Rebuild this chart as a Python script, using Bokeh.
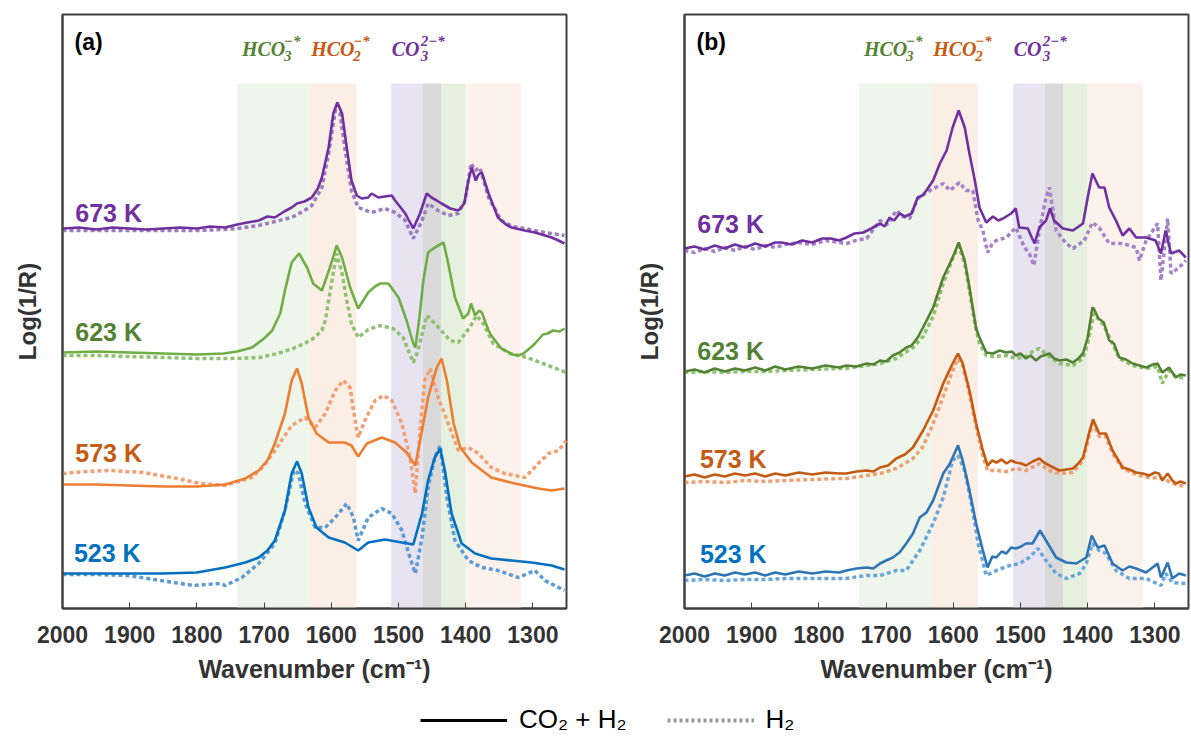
from bokeh.plotting import figure
from bokeh.layouts import row, column
from bokeh.models import Range1d, Label, Legend, LegendItem
from bokeh.embed import file_html
from bokeh.resources import INLINE

# ---------------- data (wavenumber, Log(1/R) in arbitrary offset units) ----------------
TEMPS = ["673 K", "623 K", "573 K", "523 K"]
X_TICKS = [2000, 1900, 1800, 1700, 1600, 1500, 1400, 1300]

BAND_LEFT = [1740, 1632, 1511, 1464, 1436, 1400]
BAND_RIGHT = [1632, 1563, 1464, 1436, 1400, 1318]

# panel (a)
a673_co2 = [(2000,380),(1975,381),(1950,379),(1925,381),(1900,380),(1875,379),(1850,380),(1825,381),(1800,380),(1780,382),(1758,381),(1740,384),(1725,386),(1708,388),(1695,392),(1684,391),(1670,397),(1659,401),(1651,405),(1640,407),(1629,411),(1620,420),(1614,431),(1604,461),(1597,495),(1591,506),(1584,495),(1577,461),(1570,428),(1562,413),(1555,410),(1545,411),(1540,415),(1530,411),(1520,412),(1510,413),(1505,408),(1498,402),(1490,395),(1478,380),(1468,395),(1458,415),(1451,411),(1443,408),(1436,405),(1423,400),(1411,398),(1402,405),(1396,428),(1391,441),(1385,428),(1381,434),(1376,436),(1366,415),(1352,391),(1340,384),(1332,381),(1312,378),(1297,376),(1282,373),(1272,371),(1262,368),(1253,365)]
a673_h2 = [(2000,378),(1950,378),(1900,378),(1850,378),(1800,378),(1760,379),(1740,380),(1708,383),(1684,387),(1659,391),(1640,398),(1629,403),(1614,421),(1604,455),(1594,498),(1587,495),(1580,461),(1570,418),(1560,401),(1540,396),(1520,400),(1505,396),(1490,388),(1478,370),(1465,388),(1456,405),(1441,398),(1426,393),(1411,395),(1401,408),(1392,445),(1386,438),(1379,441),(1366,411),(1347,388),(1330,382),(1312,380),(1282,376),(1253,373)]
a623_co2 = [(2000,256),(1950,257),(1900,256),(1850,255),(1800,254),(1760,255),(1740,257),(1718,261),(1700,270),(1688,278),(1676,295),(1669,318),(1659,346),(1648,355),(1636,341),(1627,325),(1614,318),(1602,341),(1592,363),(1584,351),(1572,321),(1560,300),(1545,316),(1535,322),(1527,325),(1515,325),(1500,311),(1488,288),(1478,265),(1475,261),(1469,290),(1463,328),(1456,356),(1446,361),(1433,366),(1426,345),(1416,311),(1404,290),(1396,295),(1392,305),(1386,293),(1380,298),(1376,296),(1366,278),(1362,273),(1347,260),(1330,254),(1322,253),(1314,255),(1305,260),(1297,265),(1285,274),(1278,275),(1270,278),(1260,277),(1253,280)]
a623_h2 = [(2000,253),(1950,253),(1900,252),(1850,251),(1800,250),(1750,250),(1706,251),(1680,255),(1657,260),(1640,265),(1627,270),(1614,278),(1609,288),(1599,328),(1592,355),(1584,335),(1577,308),(1570,285),(1560,271),(1545,279),(1527,283),(1508,280),(1493,271),(1478,246),(1471,258),(1458,293),(1443,283),(1423,268),(1411,266),(1394,281),(1384,293),(1374,285),(1359,265),(1334,255),(1309,251),(1285,245),(1250,236)]
a573_co2 = [(2000,124),(1950,124),(1900,123),(1850,122),(1800,122),(1758,124),(1728,130),(1708,138),(1695,148),(1684,165),(1669,195),(1659,228),(1651,240),(1644,225),(1634,191),(1622,175),(1604,166),(1590,166),(1580,166),(1570,163),(1560,152),(1547,165),(1525,171),(1505,166),(1488,156),(1475,143),(1465,178),(1456,211),(1443,241),(1436,250),(1428,228),(1418,185),(1408,161),(1391,146),(1362,131),(1327,125),(1292,120),(1272,118),(1253,120)]
a573_h2 = [(2000,135),(1965,137),(1929,138),(1880,136),(1829,130),(1795,125),(1758,123),(1718,131),(1700,143),(1684,158),(1659,183),(1639,191),(1624,181),(1609,195),(1594,218),(1582,228),(1572,221),(1567,198),(1560,171),(1550,188),(1535,208),(1522,213),(1510,208),(1495,185),(1483,151),(1475,115),(1468,178),(1461,228),(1453,240),(1441,211),(1426,185),(1411,158),(1396,161),(1381,155),(1362,141),(1342,135),(1312,131),(1292,145),(1277,155),(1262,158),(1250,168)]
a523_co2 = [(2000,35),(1950,35),(1900,35),(1850,35),(1800,36),(1775,39),(1758,41),(1728,46),(1708,51),(1695,58),(1684,68),(1669,98),(1659,135),(1651,147),(1644,135),(1634,101),(1622,81),(1604,71),(1580,66),(1560,58),(1545,66),(1520,69),(1495,66),(1478,64),(1465,95),(1456,128),(1446,151),(1438,160),(1431,138),(1421,95),(1406,65),(1386,55),(1362,50),(1332,48),(1302,46),(1272,43),(1253,39)]
a523_h2 = [(2000,34),(1950,34),(1903,33),(1854,28),(1805,23),(1765,25),(1758,23),(1733,31),(1708,45),(1684,65),(1669,98),(1656,138),(1649,135),(1639,105),(1624,81),(1609,81),(1594,91),(1577,105),(1567,91),(1560,68),(1545,91),(1525,100),(1510,95),(1495,78),(1483,51),(1475,35),(1465,71),(1456,121),(1446,151),(1438,163),(1428,111),(1416,68),(1396,48),(1376,41),(1352,38),(1322,31),(1297,38),(1282,28),(1253,18)]

# panel (b)
b673_co2 = [(2000,360),(1985,362),(1970,359),(1955,363),(1940,360),(1925,364),(1910,361),(1895,365),(1880,362),(1865,366),(1856,366),(1840,364),(1825,368),(1810,366),(1795,370),(1782,370),(1770,368),(1759,371),(1747,375),(1734,376),(1722,380),(1709,385),(1702,382),(1695,391),(1688,388),(1680,395),(1672,392),(1662,395),(1653,411),(1646,413),(1640,418),(1630,428),(1620,445),(1610,458),(1601,481),(1592,498),(1583,481),(1576,455),(1568,428),(1561,401),(1551,386),(1541,392),(1533,388),(1526,390),(1514,395),(1507,400),(1502,381),(1489,380),(1484,372),(1479,365),(1472,381),(1462,388),(1456,400),(1450,388),(1437,380),(1422,378),(1407,385),(1400,411),(1393,435),(1388,428),(1383,421),(1375,421),(1368,401),(1358,388),(1348,373),(1338,380),(1328,371),(1313,371),(1299,368),(1291,355),(1284,378),(1276,355),(1264,358),(1254,351)]
b673_h2 = [(2000,358),(1985,356),(1970,360),(1955,357),(1940,361),(1925,358),(1910,362),(1895,359),(1880,363),(1865,361),(1850,364),(1830,366),(1810,364),(1790,368),(1770,366),(1759,365),(1745,368),(1729,370),(1718,380),(1709,388),(1697,384),(1685,398),(1675,392),(1665,390),(1653,410),(1635,418),(1615,425),(1605,418),(1591,426),(1581,418),(1571,418),(1563,388),(1556,378),(1549,356),(1541,366),(1536,368),(1521,371),(1507,381),(1494,361),(1487,355),(1480,343),(1472,378),(1462,411),(1457,421),(1447,378),(1432,365),(1422,360),(1405,368),(1393,386),(1383,381),(1368,365),(1348,365),(1328,361),(1323,348),(1313,368),(1296,385),(1291,328),(1281,390),(1276,335),(1264,341),(1254,348)]
b623_co2 = [(2000,237),(1985,239),(1970,236),(1955,240),(1940,237),(1925,240),(1910,238),(1895,241),(1880,238),(1865,242),(1850,239),(1830,242),(1810,240),(1790,243),(1770,241),(1759,243),(1744,242),(1729,245),(1719,244),(1709,248),(1700,247),(1690,253),(1680,256),(1670,261),(1662,263),(1653,271),(1645,281),(1630,301),(1615,331),(1601,351),(1592,366),(1583,348),(1576,321),(1566,280),(1561,271),(1551,256),(1541,255),(1531,258),(1521,256),(1513,257),(1507,253),(1500,255),(1492,250),(1485,253),(1477,248),(1470,252),(1457,255),(1450,250),(1442,248),(1432,249),(1422,246),(1414,250),(1407,255),(1400,271),(1393,301),(1391,300),(1384,290),(1376,286),(1368,268),(1361,265),(1353,251),(1343,249),(1333,245),(1323,243),(1313,241),(1303,244),(1296,245),(1289,236),(1279,241),(1269,231),(1262,234),(1254,233)]
b623_h2 = [(2000,236),(1970,237),(1940,236),(1910,237),(1880,237),(1850,238),(1810,239),(1770,240),(1759,240),(1729,243),(1709,245),(1685,250),(1660,261),(1645,272),(1630,292),(1615,325),(1601,350),(1592,362),(1583,345),(1576,318),(1566,278),(1561,265),(1551,253),(1541,252),(1521,253),(1507,250),(1492,252),(1480,258),(1472,260),(1457,252),(1442,245),(1422,243),(1407,250),(1400,265),(1391,295),(1376,283),(1361,262),(1353,250),(1333,243),(1313,240),(1296,242),(1289,225),(1279,238),(1269,232),(1254,230)]
b573_co2 = [(2000,132),(1985,134),(1970,131),(1955,134),(1940,132),(1925,135),(1910,133),(1895,135),(1880,132),(1865,135),(1850,133),(1830,136),(1810,134),(1790,136),(1770,135),(1759,135),(1744,137),(1729,138),(1719,137),(1709,141),(1697,143),(1685,150),(1672,154),(1660,161),(1645,178),(1630,198),(1615,225),(1601,245),(1593,255),(1586,245),(1576,218),(1566,185),(1556,158),(1549,143),(1542,148),(1536,146),(1528,149),(1521,145),(1514,148),(1507,146),(1499,145),(1492,143),(1482,147),(1472,150),(1465,146),(1457,143),(1442,138),(1432,139),(1422,140),(1414,145),(1407,151),(1397,178),(1392,189),(1383,175),(1373,175),(1363,158),(1348,141),(1338,139),(1328,136),(1318,135),(1309,133),(1300,136),(1294,135),(1289,128),(1281,135),(1274,128),(1269,125),(1262,127),(1254,125)]
b573_h2 = [(2000,126),(1970,127),(1940,126),(1910,128),(1880,127),(1850,128),(1810,129),(1770,130),(1759,130),(1729,133),(1709,135),(1685,140),(1660,150),(1645,162),(1630,185),(1615,212),(1601,238),(1593,250),(1586,243),(1576,215),(1566,182),(1556,152),(1549,138),(1536,138),(1521,137),(1507,140),(1492,138),(1472,145),(1457,138),(1442,135),(1422,136),(1407,148),(1397,175),(1392,185),(1383,172),(1373,172),(1363,155),(1348,140),(1328,134),(1309,131),(1289,130),(1269,124),(1254,122)]
b523_co2 = [(2000,33),(1985,35),(1970,32),(1955,35),(1940,33),(1925,36),(1910,34),(1895,36),(1880,33),(1865,36),(1850,34),(1830,37),(1810,35),(1790,37),(1770,36),(1759,38),(1744,40),(1729,41),(1719,40),(1709,45),(1700,48),(1690,51),(1680,56),(1670,65),(1660,75),(1650,91),(1640,96),(1630,108),(1615,135),(1605,145),(1593,163),(1586,148),(1576,118),(1566,85),(1556,58),(1549,41),(1542,52),(1536,51),(1528,57),(1521,55),(1514,61),(1507,60),(1499,62),(1492,65),(1482,65),(1471,78),(1462,68),(1447,51),(1432,46),(1417,45),(1402,51),(1394,73),(1385,61),(1375,63),(1363,45),(1348,38),(1338,42),(1328,40),(1313,36),(1296,45),(1291,31),(1281,46),(1274,30),(1264,35),(1254,33)]
b523_h2 = [(2000,28),(1970,29),(1940,28),(1910,29),(1880,29),(1850,30),(1810,30),(1770,30),(1759,30),(1729,33),(1709,33),(1685,38),(1670,38),(1650,58),(1630,85),(1615,111),(1601,148),(1593,153),(1583,138),(1573,105),(1563,65),(1551,33),(1536,38),(1516,43),(1501,45),(1487,51),(1474,60),(1462,48),(1447,35),(1432,30),(1412,35),(1402,45),(1393,65),(1383,58),(1373,55),(1358,38),(1338,30),(1313,30),(1291,23),(1284,35),(1274,26),(1254,25)]

# ---------------- styles ----------------
BAND_COLORS = ["#EEF5EA", "#FBEEE5", "#E8E3F1", "#D9D9D9", "#E6F0DF", "#FDF2EB"]
TEMP_COLORS = ["#7030A0", "#548235", "#C55A11", "#0070C0"]
SOLID_A = ["#7030A0", "#70AD47", "#ED7D31", "#0070C0"]
DOT_A = ["#9E7CC1", "#8FC172", "#F2A073", "#5B9BD5"]
SOLID_B = ["#7030A0", "#548235", "#C55A11", "#2E75B6"]
DOT_B = ["#A582C8", "#8CC36C", "#F0A070", "#6AA6DC"]
AXIS_COLOR = "#404040"
TXT = "#333333"


def xy(pairs):
    return [p[0] for p in pairs], [p[1] for p in pairs]


def make_panel(tag, solids, dots, solid_cols, dot_cols, temp_pos, b_left, b_right):
    p = figure(frame_width=504, frame_height=594,
               x_range=Range1d(2000, 1250), y_range=Range1d(0, 594),
               output_backend="svg", toolbar_location=None,
               min_border_left=b_left, min_border_right=b_right,
               min_border_top=14, min_border_bottom=92)
    p.grid.visible = False
    p.background_fill_color = "white"
    p.outline_line_color = AXIS_COLOR
    p.outline_line_width = 2
    p.outline_line_alpha = 1

    p.quad(left=BAND_LEFT, right=BAND_RIGHT, bottom=0, top=525,
           fill_color=BAND_COLORS, line_color=None)

    for pairs, col in zip(dots, dot_cols):
        x, y = xy(pairs)
        p.line(x, y, line_color=col, line_width=3.5, line_dash="4 3")
    for pairs, col in zip(solids, solid_cols):
        x, y = xy(pairs)
        p.line(x, y, line_color=col, line_width=2.6)

    # temperature labels
    for t, (xw, yv), col in zip(TEMPS, temp_pos, TEMP_COLORS):
        p.add_layout(Label(x=xw, y=yv, text=t, text_color=col,
                           text_font="Liberation Sans", text_font_style="bold",
                           text_font_size="25px", text_baseline="middle", text_align="left"))

    # species labels (stacked sub/superscripts)
    species = [("HCO", "3", "\u2212*", 1733, 42, "#548235"),
               ("HCO", "2", "\u2212*", 1630, 42, "#C55A11"),
               ("CO", "3", "2\u2212*", 1510, 29, "#7030A0")]
    for main, sub, sup, xw, w, col in species:
        common = dict(text_color=col, text_font="Liberation Serif",
                      text_font_style="bold italic", text_baseline="middle", text_align="left")
        p.add_layout(Label(x=xw, y=560, text=main, text_font_size="20px", **common))
        p.add_layout(Label(x=xw, y=560, x_offset=w, y_offset=-7, text=sub,
                           text_font_size="15px", **common))
        p.add_layout(Label(x=xw, y=560, x_offset=w, y_offset=8, text=sup,
                           text_font_size="15px", **common))

    p.add_layout(Label(x=1982, y=567, text=tag, text_color="black",
                       text_font="Liberation Sans", text_font_style="bold",
                       text_font_size="23px", text_baseline="middle"))

    # axes
    p.xaxis.ticker = X_TICKS
    p.xaxis.minor_tick_line_color = None
    p.xaxis.major_tick_in = 6
    p.xaxis.major_tick_out = 0
    p.xaxis.major_tick_line_color = AXIS_COLOR
    p.xaxis.major_tick_line_width = 1
    p.xaxis.axis_line_color = AXIS_COLOR
    p.xaxis.axis_line_width = 2
    p.xaxis.major_label_text_font = "Liberation Sans"
    p.xaxis.major_label_text_font_style = "bold"
    p.xaxis.major_label_text_font_size = "23px"
    p.xaxis.major_label_text_color = TXT
    p.xaxis.major_label_standoff = 17
    p.xaxis.axis_label = "Wavenumber (cm\u207b\u00b9)"
    p.xaxis.axis_label_text_font = "Liberation Sans"
    p.xaxis.axis_label_text_font_style = "bold"
    p.xaxis.axis_label_text_font_size = "25px"
    p.xaxis.axis_label_text_color = TXT
    p.xaxis.axis_label_standoff = 9

    p.yaxis.ticker = []
    p.yaxis.minor_tick_line_color = None
    p.yaxis.major_tick_line_color = None
    p.yaxis.axis_line_color = AXIS_COLOR
    p.yaxis.axis_line_width = 2
    p.yaxis.major_label_standoff = 0
    p.yaxis.axis_label = "Log(1/R)"
    p.yaxis.axis_label_text_font = "Liberation Sans"
    p.yaxis.axis_label_text_font_style = "bold"
    p.yaxis.axis_label_text_font_size = "24px"
    p.yaxis.axis_label_text_color = TXT
    p.yaxis.axis_label_standoff = 22
    return p


pa = make_panel("(a)", [a673_co2, a623_co2, a573_co2, a523_co2],
                [a673_h2, a623_h2, a573_h2, a523_h2], SOLID_A, DOT_A,
                [(1981, 396), (1981, 277), (1981, 156), (1983, 56)], 62, 58)
pb = make_panel("(b)", [b673_co2, b623_co2, b573_co2, b523_co2],
                [b673_h2, b623_h2, b573_h2, b523_h2], SOLID_B, DOT_B,
                [(1981, 385), (1981, 258), (1977, 150), (1977, 55)], 60, 3)

# legend strip
pl = figure(width=1191, height=40, output_backend="svg", toolbar_location=None,
            x_range=Range1d(0, 1), y_range=Range1d(0, 1), min_border=0)
pl.axis.visible = False
pl.grid.visible = False
pl.outline_line_color = None
r1 = pl.line([5, 6], [5, 6], line_color="black", line_width=3)
r2 = pl.line([5, 6], [5, 6], line_color="#999999", line_width=4, line_dash="3 3")
leg = Legend(items=[LegendItem(label="CO\u2082 + H\u2082", renderers=[r1]),
                    LegendItem(label="H\u2082", renderers=[r2])],
             orientation="horizontal", location=(420, 5), glyph_width=87, glyph_height=26,
             label_text_font="Liberation Sans", label_text_font_size="26px",
             label_text_color="black", border_line_color=None, background_fill_alpha=0,
             spacing=40, padding=0, margin=0, label_standoff=12)
pl.add_layout(leg)

layout = column(row(pa, pb), pl)
open("out.html", "w").write(file_html(layout, INLINE))
